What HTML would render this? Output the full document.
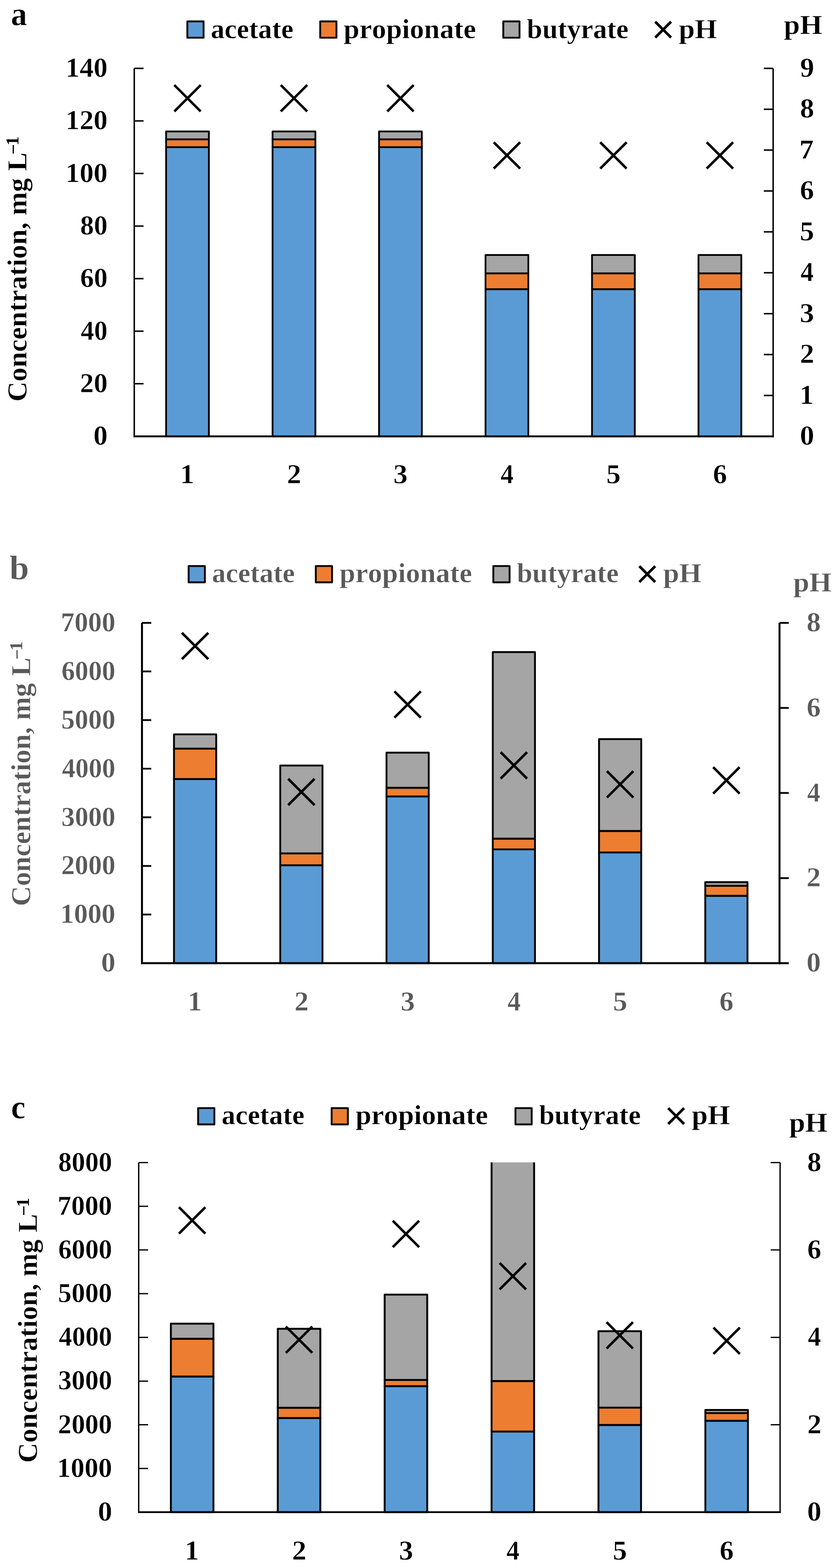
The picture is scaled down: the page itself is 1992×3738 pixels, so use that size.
<!DOCTYPE html>
<html lang="en">
<head>
<meta charset="utf-8">
<title>Concentration of acetate, propionate, butyrate and pH</title>
<style>
html,body{margin:0;padding:0;background:#fff;}
body{width:1992px;height:3738px;overflow:hidden;}
svg{display:block;}
svg text{font-family:"Liberation Serif", "DejaVu Serif", serif;font-weight:bold;white-space:pre;font-kerning:none;font-variant-ligatures:none;stroke:#fff;stroke-width:0.6;text-rendering:geometricPrecision;}
svg text .sup{stroke:none;}
</style>
</head>
<body>
<svg width="1992" height="3738" viewBox="0 0 1992 3738">
<rect width="1992" height="3738" fill="#fff"/>
<g id="panel-a">
<text transform="translate(26.12 59.6) scale(0.9699 1)" font-size="79.5" fill="#000000">a</text>
<rect x="446.4" y="51" width="38.7" height="38.9" fill="#5B9BD5" stroke="#000" stroke-width="4.4" stroke-linejoin="round"/>
<rect x="763" y="51" width="38.7" height="38.9" fill="#ED7D31" stroke="#000" stroke-width="4.4" stroke-linejoin="round"/>
<rect x="1199.2" y="51" width="38.7" height="38.9" fill="#A5A5A5" stroke="#000" stroke-width="4.4" stroke-linejoin="round"/>
<text transform="translate(502.28 90.8) scale(1.0029 1)" font-size="65.5" fill="#000000">acetate</text>
<text transform="translate(818.74 90.8) scale(1.0321 1)" font-size="65.5" fill="#000000">propionate</text>
<text transform="translate(1255.36 90.8) scale(1.0093 1)" font-size="65.5" fill="#000000">butyrate</text>
<text transform="translate(1617.53 90.8) scale(1.0426 1)" font-size="65.5" fill="#000000">pH</text>
<path d="M1561.2 51.75L1599 89.55M1561.2 89.55L1599 51.75" stroke="#000" stroke-width="6.3" fill="none"/>
<text transform="translate(1867.83 81) scale(1.0461 1)" font-size="65.5" fill="#000000">pH</text>
<text transform="translate(62.9 957.55) rotate(-90) scale(1.0174 1)" font-size="65.5" fill="#000000">Concentration, mg L<tspan class="sup" font-size="43.23" dx="-5.03" dy="-17">−</tspan><tspan class="sup" font-size="43.23" dx="-3.52" dy="-1.9">1</tspan></text>
<clipPath id="clip-a"><rect x="309.9" y="162.5" width="1562.3" height="887.3"/></clipPath>
<g clip-path="url(#clip-a)" stroke="#000" stroke-width="4.2" stroke-linejoin="round">
<rect x="395.76" y="350.9" width="102" height="689.3" fill="#5B9BD5"/>
<rect x="395.76" y="332.1" width="102" height="18.8" fill="#ED7D31"/>
<rect x="395.76" y="313.3" width="102" height="18.8" fill="#A5A5A5"/>
<rect x="649.48" y="350.9" width="102" height="689.3" fill="#5B9BD5"/>
<rect x="649.48" y="332.1" width="102" height="18.8" fill="#ED7D31"/>
<rect x="649.48" y="313.3" width="102" height="18.8" fill="#A5A5A5"/>
<rect x="903.19" y="350.9" width="102" height="689.3" fill="#5B9BD5"/>
<rect x="903.19" y="332.1" width="102" height="18.8" fill="#ED7D31"/>
<rect x="903.19" y="313.3" width="102" height="18.8" fill="#A5A5A5"/>
<rect x="1156.91" y="689.3" width="102" height="350.9" fill="#5B9BD5"/>
<rect x="1156.91" y="651.7" width="102" height="37.6" fill="#ED7D31"/>
<rect x="1156.91" y="607.8" width="102" height="43.9" fill="#A5A5A5"/>
<rect x="1410.62" y="689.3" width="102" height="350.9" fill="#5B9BD5"/>
<rect x="1410.62" y="651.7" width="102" height="37.6" fill="#ED7D31"/>
<rect x="1410.62" y="607.8" width="102" height="43.9" fill="#A5A5A5"/>
<rect x="1664.34" y="689.3" width="102" height="350.9" fill="#5B9BD5"/>
<rect x="1664.34" y="651.7" width="102" height="37.6" fill="#ED7D31"/>
<rect x="1664.34" y="607.8" width="102" height="43.9" fill="#A5A5A5"/>
</g>
<g stroke="#000" fill="none">
<path d="M319.9 162.9V1042.45" stroke-width="3.5"/>
<path d="M1842.2 162.9V1042.45" stroke-width="3.5"/>
<path d="M318.75 1040.2H1843.95" stroke-width="4.5"/>
<path d="M319.9 914.87H342.1M319.9 789.54H342.1M319.9 664.21H342.1M319.9 538.89H342.1M319.9 413.56H342.1M319.9 288.23H342.1M319.9 162.9H342.1M1842.2 942.72H1820M1842.2 845.24H1820M1842.2 747.77H1820M1842.2 650.29H1820M1842.2 552.81H1820M1842.2 455.33H1820M1842.2 357.86H1820M1842.2 260.38H1820M1842.2 162.9H1820" stroke-width="3.5"/>
</g>
<path d="M415.31 202.75L478.21 265.65M415.31 265.65L478.21 202.75" stroke="#000" stroke-width="5.9" fill="none"/>
<path d="M669.02 202.75L731.93 265.65M669.02 265.65L731.93 202.75" stroke="#000" stroke-width="5.9" fill="none"/>
<path d="M922.74 202.75L985.64 265.65M922.74 265.65L985.64 202.75" stroke="#000" stroke-width="5.9" fill="none"/>
<path d="M1176.46 339.05L1239.36 401.95M1176.46 401.95L1239.36 339.05" stroke="#000" stroke-width="5.9" fill="none"/>
<path d="M1430.17 339.05L1493.08 401.95M1430.17 401.95L1493.08 339.05" stroke="#000" stroke-width="5.9" fill="none"/>
<path d="M1683.89 339.05L1746.79 401.95M1683.89 401.95L1746.79 339.05" stroke="#000" stroke-width="5.9" fill="none"/>
<text transform="translate(222.43 1060.3) scale(1.0400 1)" font-size="65.5" fill="#000000">0</text>
<text transform="translate(190.43 934.97) scale(1.0074 1)" font-size="65.5" fill="#000000">20</text>
<text transform="translate(192.32 809.64) scale(0.9773 1)" font-size="65.5" fill="#000000">40</text>
<text transform="translate(190.96 684.31) scale(0.9989 1)" font-size="65.5" fill="#000000">60</text>
<text transform="translate(191.03 558.99) scale(0.9979 1)" font-size="65.5" fill="#000000">80</text>
<text transform="translate(156.36 433.66) scale(1.0187 1)" font-size="65.5" fill="#000000">100</text>
<text transform="translate(156.36 308.33) scale(1.0187 1)" font-size="65.5" fill="#000000">120</text>
<text transform="translate(156.36 183) scale(1.0187 1)" font-size="65.5" fill="#000000">140</text>
<text transform="translate(1905.97 1060.3) scale(1.0400 1)" font-size="65.5" fill="#000000">0</text>
<text transform="translate(1905.01 962.82) scale(1.0400 1)" font-size="65.5" fill="#000000">1</text>
<text transform="translate(1906 865.34) scale(1.0400 1)" font-size="65.5" fill="#000000">2</text>
<text transform="translate(1905.85 767.87) scale(1.0400 1)" font-size="65.5" fill="#000000">3</text>
<text transform="translate(1907.55 670.39) scale(0.9530 1)" font-size="65.5" fill="#000000">4</text>
<text transform="translate(1905.85 572.91) scale(1.0400 1)" font-size="65.5" fill="#000000">5</text>
<text transform="translate(1906.11 475.43) scale(1.0213 1)" font-size="65.5" fill="#000000">6</text>
<text transform="translate(1904.86 377.96) scale(1.0400 1)" font-size="65.5" fill="#000000">7</text>
<text transform="translate(1906.16 280.48) scale(1.0282 1)" font-size="65.5" fill="#000000">8</text>
<text transform="translate(1906.57 183) scale(1.0213 1)" font-size="65.5" fill="#000000">9</text>
<text transform="translate(429.06 1152) scale(1.0400 1)" font-size="65.5" fill="#000000">1</text>
<text transform="translate(683.78 1152) scale(1.0400 1)" font-size="65.5" fill="#000000">2</text>
<text transform="translate(937.35 1152) scale(1.0400 1)" font-size="65.5" fill="#000000">3</text>
<text transform="translate(1192.75 1152) scale(0.9530 1)" font-size="65.5" fill="#000000">4</text>
<text transform="translate(1444.78 1152) scale(1.0400 1)" font-size="65.5" fill="#000000">5</text>
<text transform="translate(1698.76 1152) scale(1.0213 1)" font-size="65.5" fill="#000000">6</text>
</g>
<g id="panel-b">
<text transform="translate(22.43 1380.9) scale(1.0296 1)" font-size="81.5" fill="#595959">b</text>
<rect x="449.5" y="1349.4" width="38.7" height="38.9" fill="#5B9BD5" stroke="#000" stroke-width="4.4" stroke-linejoin="round"/>
<rect x="752.5" y="1349.4" width="38.7" height="38.9" fill="#ED7D31" stroke="#000" stroke-width="4.4" stroke-linejoin="round"/>
<rect x="1175.5" y="1349.4" width="38.7" height="38.9" fill="#A5A5A5" stroke="#000" stroke-width="4.4" stroke-linejoin="round"/>
<text transform="translate(504.98 1388.1) scale(1.0066 1)" font-size="65.5" fill="#595959">acetate</text>
<text transform="translate(809.04 1388.1) scale(1.0328 1)" font-size="65.5" fill="#595959">propionate</text>
<text transform="translate(1231.66 1388.1) scale(1.0097 1)" font-size="65.5" fill="#595959">butyrate</text>
<text transform="translate(1580.13 1388.1) scale(1.0438 1)" font-size="65.5" fill="#595959">pH</text>
<path d="M1523.4 1349.7L1561.2 1387.5M1523.4 1387.5L1561.2 1349.7" stroke="#000" stroke-width="6.3" fill="none"/>
<text transform="translate(1890.33 1410.4) scale(1.0438 1)" font-size="65.5" fill="#595959">pH</text>
<text transform="translate(72.1 2159.95) rotate(-90) scale(1.0148 1)" font-size="65.5" fill="#595959">Concentration, mg L<tspan class="sup" font-size="43.23" dx="-5.03" dy="-17">−</tspan><tspan class="sup" font-size="43.23" dx="-3.52" dy="-1.9">1</tspan></text>
<clipPath id="clip-b"><rect x="328.3" y="1484.4" width="1559.1" height="821.3"/></clipPath>
<g clip-path="url(#clip-b)" stroke="#000" stroke-width="4.4" stroke-linejoin="round">
<rect x="414.59" y="1857.1" width="100.6" height="439" fill="#5B9BD5"/>
<rect x="414.59" y="1784.8" width="100.6" height="72.3" fill="#ED7D31"/>
<rect x="414.59" y="1750.6" width="100.6" height="34.2" fill="#A5A5A5"/>
<rect x="667.78" y="2062.8" width="100.6" height="233.3" fill="#5B9BD5"/>
<rect x="667.78" y="2034.4" width="100.6" height="28.4" fill="#ED7D31"/>
<rect x="667.78" y="1825" width="100.6" height="209.4" fill="#A5A5A5"/>
<rect x="920.96" y="1898.8" width="100.6" height="397.3" fill="#5B9BD5"/>
<rect x="920.96" y="1878" width="100.6" height="20.8" fill="#ED7D31"/>
<rect x="920.96" y="1794.2" width="100.6" height="83.8" fill="#A5A5A5"/>
<rect x="1174.14" y="2024.9" width="100.6" height="271.2" fill="#5B9BD5"/>
<rect x="1174.14" y="1999.2" width="100.6" height="25.7" fill="#ED7D31"/>
<rect x="1174.14" y="1554.5" width="100.6" height="444.7" fill="#A5A5A5"/>
<rect x="1427.33" y="2032.1" width="100.6" height="264" fill="#5B9BD5"/>
<rect x="1427.33" y="1981" width="100.6" height="51.1" fill="#ED7D31"/>
<rect x="1427.33" y="1762" width="100.6" height="219" fill="#A5A5A5"/>
<rect x="1680.51" y="2135.5" width="100.6" height="160.6" fill="#5B9BD5"/>
<rect x="1680.51" y="2111.6" width="100.6" height="23.9" fill="#ED7D31"/>
<rect x="1680.51" y="2103" width="100.6" height="8.6" fill="#A5A5A5"/>
</g>
<g stroke="#000" fill="none">
<path d="M338.3 1484.8V2298.5" stroke-width="4.7"/>
<path d="M1857.4 1484.8V2298.5" stroke-width="4.7"/>
<path d="M336.55 2296.1H1879.5" stroke-width="4.8"/>
<path d="M338.3 2180.2H360.4M338.3 2064.3H360.4M338.3 1948.4H360.4M338.3 1832.5H360.4M338.3 1716.6H360.4M338.3 1600.7H360.4M338.3 1484.8H360.4M1857.4 2093.28H1879.5M1857.4 1890.45H1879.5M1857.4 1687.62H1879.5M1857.4 1484.8H1879.5" stroke-width="4.2"/>
</g>
<path d="M433.44 1508.55L496.34 1571.45M433.44 1571.45L496.34 1508.55" stroke="#000" stroke-width="5.9" fill="none"/>
<path d="M686.62 1856.55L749.53 1919.45M686.62 1919.45L749.53 1856.55" stroke="#000" stroke-width="5.9" fill="none"/>
<path d="M939.81 1648.05L1002.71 1710.95M939.81 1710.95L1002.71 1648.05" stroke="#000" stroke-width="5.9" fill="none"/>
<path d="M1192.99 1793.15L1255.89 1856.05M1192.99 1856.05L1255.89 1793.15" stroke="#000" stroke-width="5.9" fill="none"/>
<path d="M1446.17 1838.35L1509.08 1901.25M1446.17 1901.25L1509.08 1838.35" stroke="#000" stroke-width="5.9" fill="none"/>
<path d="M1699.36 1828.95L1762.26 1891.85M1699.36 1891.85L1762.26 1828.95" stroke="#000" stroke-width="5.9" fill="none"/>
<text transform="translate(240.93 2316.2) scale(1.0400 1)" font-size="65.5" fill="#595959">0</text>
<text transform="translate(143.44 2200.3) scale(1.0036 1)" font-size="65.5" fill="#595959">1000</text>
<text transform="translate(145.99 2084.4) scale(0.9837 1)" font-size="65.5" fill="#595959">2000</text>
<text transform="translate(146.28 1968.5) scale(0.9814 1)" font-size="65.5" fill="#595959">3000</text>
<text transform="translate(147.83 1852.6) scale(0.9694 1)" font-size="65.5" fill="#595959">4000</text>
<text transform="translate(146.12 1736.7) scale(0.9827 1)" font-size="65.5" fill="#595959">5000</text>
<text transform="translate(146.51 1620.8) scale(0.9797 1)" font-size="65.5" fill="#595959">6000</text>
<text transform="translate(144.99 1504.9) scale(0.9915 1)" font-size="65.5" fill="#595959">7000</text>
<text transform="translate(1921.77 2316.2) scale(1.0400 1)" font-size="65.5" fill="#595959">0</text>
<text transform="translate(1921.8 2113.38) scale(1.0400 1)" font-size="65.5" fill="#595959">2</text>
<text transform="translate(1923.35 1910.55) scale(0.9530 1)" font-size="65.5" fill="#595959">4</text>
<text transform="translate(1921.91 1707.72) scale(1.0213 1)" font-size="65.5" fill="#595959">6</text>
<text transform="translate(1921.96 1504.9) scale(1.0282 1)" font-size="65.5" fill="#595959">8</text>
<text transform="translate(447.2 2409) scale(1.0400 1)" font-size="65.5" fill="#595959">1</text>
<text transform="translate(701.38 2409) scale(1.0400 1)" font-size="65.5" fill="#595959">2</text>
<text transform="translate(954.41 2409) scale(1.0400 1)" font-size="65.5" fill="#595959">3</text>
<text transform="translate(1209.29 2409) scale(0.9530 1)" font-size="65.5" fill="#595959">4</text>
<text transform="translate(1460.78 2409) scale(1.0400 1)" font-size="65.5" fill="#595959">5</text>
<text transform="translate(1714.22 2409) scale(1.0213 1)" font-size="65.5" fill="#595959">6</text>
</g>
<g id="panel-c">
<text transform="translate(26.15 2666) scale(0.9742 1)" font-size="79.5" fill="#000000">c</text>
<rect x="472.1" y="2641.6" width="38.7" height="38.9" fill="#5B9BD5" stroke="#000" stroke-width="4.4" stroke-linejoin="round"/>
<rect x="790.2" y="2641.6" width="38.7" height="38.9" fill="#ED7D31" stroke="#000" stroke-width="4.4" stroke-linejoin="round"/>
<rect x="1228.2" y="2641.6" width="38.7" height="38.9" fill="#A5A5A5" stroke="#000" stroke-width="4.4" stroke-linejoin="round"/>
<text transform="translate(527.98 2680.2) scale(1.0055 1)" font-size="65.5" fill="#000000">acetate</text>
<text transform="translate(847.24 2680.2) scale(1.0321 1)" font-size="65.5" fill="#000000">propionate</text>
<text transform="translate(1284.46 2680.2) scale(1.0097 1)" font-size="65.5" fill="#000000">butyrate</text>
<text transform="translate(1648.13 2680.2) scale(1.0450 1)" font-size="65.5" fill="#000000">pH</text>
<path d="M1592.2 2641.8L1630 2679.6M1592.2 2679.6L1630 2641.8" stroke="#000" stroke-width="6.3" fill="none"/>
<text transform="translate(1880.53 2698.4) scale(1.0438 1)" font-size="65.5" fill="#000000">pH</text>
<text transform="translate(88.1 3487.25) rotate(-90) scale(1.0163 1)" font-size="65.5" fill="#000000">Concentration, mg L<tspan class="sup" font-size="43.23" dx="-5.03" dy="-17">−</tspan><tspan class="sup" font-size="43.23" dx="-3.52" dy="-1.9">1</tspan></text>
<clipPath id="clip-c"><rect x="320.5" y="2771.1" width="1568.3" height="843.4"/></clipPath>
<g clip-path="url(#clip-c)" stroke="#000" stroke-width="4.5" stroke-linejoin="round">
<rect x="407.16" y="3281.4" width="101.4" height="323.5" fill="#5B9BD5"/>
<rect x="407.16" y="3191.6" width="101.4" height="89.8" fill="#ED7D31"/>
<rect x="407.16" y="3155.5" width="101.4" height="36.1" fill="#A5A5A5"/>
<rect x="661.88" y="3380.6" width="101.4" height="224.3" fill="#5B9BD5"/>
<rect x="661.88" y="3356" width="101.4" height="24.6" fill="#ED7D31"/>
<rect x="661.88" y="3167.7" width="101.4" height="188.3" fill="#A5A5A5"/>
<rect x="916.59" y="3304.5" width="101.4" height="300.4" fill="#5B9BD5"/>
<rect x="916.59" y="3289.7" width="101.4" height="14.8" fill="#ED7D31"/>
<rect x="916.59" y="3086.2" width="101.4" height="203.5" fill="#A5A5A5"/>
<rect x="1171.31" y="3412.8" width="101.4" height="192.1" fill="#5B9BD5"/>
<rect x="1171.31" y="3292.3" width="101.4" height="120.5" fill="#ED7D31"/>
<rect x="1171.31" y="2500" width="101.4" height="792.3" fill="#A5A5A5"/>
<rect x="1426.02" y="3396.9" width="101.4" height="208" fill="#5B9BD5"/>
<rect x="1426.02" y="3355.8" width="101.4" height="41.1" fill="#ED7D31"/>
<rect x="1426.02" y="3173.4" width="101.4" height="182.4" fill="#A5A5A5"/>
<rect x="1680.74" y="3387" width="101.4" height="217.9" fill="#5B9BD5"/>
<rect x="1680.74" y="3368.8" width="101.4" height="18.2" fill="#ED7D31"/>
<rect x="1680.74" y="3361.2" width="101.4" height="7.6" fill="#A5A5A5"/>
</g>
<g stroke="#000" fill="none">
<path d="M330.5 2771.5V3607" stroke-width="3.2"/>
<path d="M1858.8 2771.5V3607" stroke-width="3.2"/>
<path d="M329.5 3604.9H1860.4" stroke-width="4.2"/>
<path d="M330.5 3500.72H352.9M330.5 3396.55H352.9M330.5 3292.38H352.9M330.5 3188.2H352.9M330.5 3084.03H352.9M330.5 2979.85H352.9M330.5 2875.68H352.9M330.5 2771.5H352.9M1858.8 3396.55H1836.4M1858.8 3188.2H1836.4M1858.8 2979.85H1836.4M1858.8 2771.5H1836.4" stroke-width="3"/>
</g>
<path d="M426.41 2877.95L489.31 2940.85M426.41 2940.85L489.31 2877.95" stroke="#000" stroke-width="5.9" fill="none"/>
<path d="M681.12 3162.25L744.03 3225.15M681.12 3225.15L744.03 3162.25" stroke="#000" stroke-width="5.9" fill="none"/>
<path d="M935.84 2910.15L998.74 2973.05M935.84 2973.05L998.74 2910.15" stroke="#000" stroke-width="5.9" fill="none"/>
<path d="M1190.56 3010.95L1253.46 3073.85M1190.56 3073.85L1253.46 3010.95" stroke="#000" stroke-width="5.9" fill="none"/>
<path d="M1445.27 3151.85L1508.17 3214.75M1445.27 3214.75L1508.17 3151.85" stroke="#000" stroke-width="5.9" fill="none"/>
<path d="M1699.99 3164.85L1762.89 3227.75M1699.99 3227.75L1762.89 3164.85" stroke="#000" stroke-width="5.9" fill="none"/>
<text transform="translate(233.13 3625) scale(1.0400 1)" font-size="65.5" fill="#000000">0</text>
<text transform="translate(135.64 3520.82) scale(1.0036 1)" font-size="65.5" fill="#000000">1000</text>
<text transform="translate(138.19 3416.65) scale(0.9837 1)" font-size="65.5" fill="#000000">2000</text>
<text transform="translate(138.48 3312.47) scale(0.9814 1)" font-size="65.5" fill="#000000">3000</text>
<text transform="translate(140.03 3208.3) scale(0.9694 1)" font-size="65.5" fill="#000000">4000</text>
<text transform="translate(138.32 3104.12) scale(0.9827 1)" font-size="65.5" fill="#000000">5000</text>
<text transform="translate(138.71 2999.95) scale(0.9797 1)" font-size="65.5" fill="#000000">6000</text>
<text transform="translate(137.19 2895.78) scale(0.9915 1)" font-size="65.5" fill="#000000">7000</text>
<text transform="translate(138.77 2791.6) scale(0.9792 1)" font-size="65.5" fill="#000000">8000</text>
<text transform="translate(1923.37 3625) scale(1.0400 1)" font-size="65.5" fill="#000000">0</text>
<text transform="translate(1923.4 3416.65) scale(1.0400 1)" font-size="65.5" fill="#000000">2</text>
<text transform="translate(1924.95 3208.3) scale(0.9530 1)" font-size="65.5" fill="#000000">4</text>
<text transform="translate(1923.51 2999.95) scale(1.0213 1)" font-size="65.5" fill="#000000">6</text>
<text transform="translate(1923.56 2791.6) scale(1.0282 1)" font-size="65.5" fill="#000000">8</text>
<text transform="translate(440.16 3718) scale(1.0400 1)" font-size="65.5" fill="#000000">1</text>
<text transform="translate(695.88 3718) scale(1.0400 1)" font-size="65.5" fill="#000000">2</text>
<text transform="translate(950.45 3718) scale(1.0400 1)" font-size="65.5" fill="#000000">3</text>
<text transform="translate(1206.85 3718) scale(0.9530 1)" font-size="65.5" fill="#000000">4</text>
<text transform="translate(1459.88 3718) scale(1.0400 1)" font-size="65.5" fill="#000000">5</text>
<text transform="translate(1714.86 3718) scale(1.0213 1)" font-size="65.5" fill="#000000">6</text>
</g>
</svg>
</body>
</html>
